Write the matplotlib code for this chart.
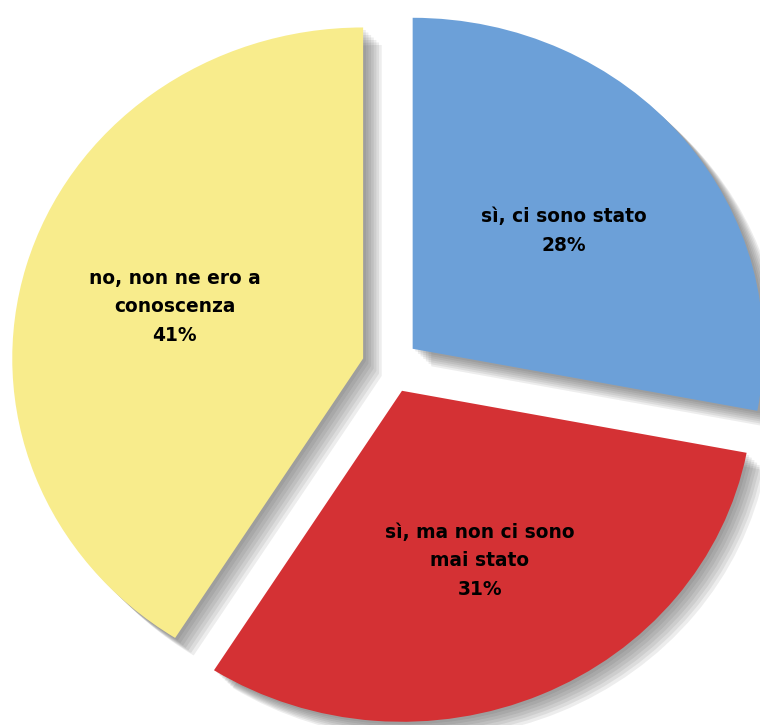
import matplotlib
matplotlib.use("Agg")
import matplotlib.pyplot as plt
import matplotlib.patches as mpatches

# survey answers, clockwise from the top
labels = ["sì, ci sono stato", "sì, ma non ci sono\nmai stato", "no, non ne ero a\nconoscenza"]
values = [28, 31, 41]
colors = ["#6CA0D8", "#D43134", "#F8EC8C"]

fig = plt.figure(figsize=(7.6, 7.25), dpi=100)
ax = fig.add_axes([0, 0, 1, 1])

wedges, texts, autotexts = ax.pie(
    values, colors=colors, startangle=90, counterclock=False,
    center=(368.5, 359), radius=331, explode=[27, 27, 27],
    autopct="%d%%", pctdistance=0.56,
    wedgeprops=dict(linewidth=0),
    textprops=dict(fontsize=13.4, fontweight="bold", color="black"))

for t, lab, v in zip(autotexts, labels, values):
    t.set_text(f"{lab}\n{v}%")
    t.set_multialignment("center")
    t.set_linespacing(1.65)

# soft drop shadow, built from several faint offset copies
for w in wedges:
    for k in range(1, 8):
        s = mpatches.Shadow(w, 1.8 * k, -1.8 * k, facecolor="#3a3a3a",
                            edgecolor="none", alpha=0.09)
        s.set_zorder(0.5)
        ax.add_patch(s)

# the original pie is slightly wider than tall
ax.set_xlim(0, 760 / 1.06)
ax.set_ylim(0, 725)
ax.set_aspect("auto")
ax.axis("off")

fig.savefig("out.png", dpi=100)
